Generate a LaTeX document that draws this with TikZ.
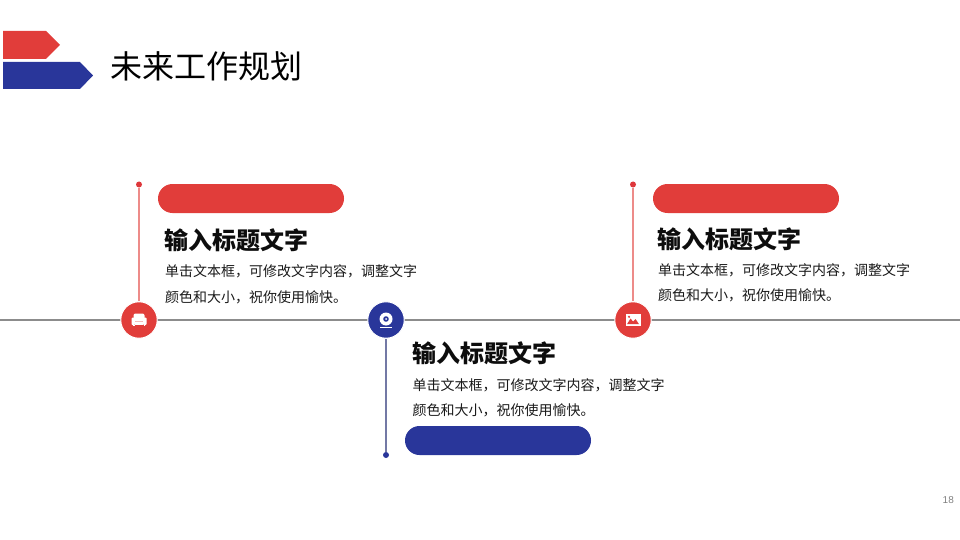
\documentclass[tikz,border=0pt]{standalone}
\usepackage{xcolor}
\usepackage{fontspec}
\setmainfont{Noto Sans CJK SC}
\newfontfamily\pagefont{Liberation Sans}
\usetikzlibrary{positioning}
\definecolor{planred}{HTML}{E13D3A}
\definecolor{planblue}{HTML}{29369A}
\begin{document}
\begin{tikzpicture}[
    x=1pt, y=-1pt,
    axis/.style={line width=1.2pt, draw=gray!90!white},
    stem/.style={line width=1.4pt},
    dot/.style={circle, inner sep=0pt, minimum size=6pt},
    badge/.style={circle, inner sep=0pt, minimum size=36.5pt, draw=white, line width=1pt},
    pill/.style={rounded corners=14.5pt, minimum width=186pt, minimum height=29pt, inner sep=0pt},
    heading/.style={anchor=west, inner sep=0pt, font=\fontsize{24}{28}\selectfont\bfseries, text=black!95},
    body/.style={anchor=west, inner sep=0pt, font=\fontsize{14}{18}\selectfont, text=black!90},
    icon/.style={fill=white, draw=none}
]
\useasboundingbox (0,0) rectangle (960,540);
% corner mark
\fill[planred] (3,31) -- (46,31) -- (60,45) -- (46,59) -- (3,59) -- cycle;
\fill[planblue] (3,62) -- (80,62) -- (93,75.5) -- (80,89) -- (3,89) -- cycle;
\node[anchor=west, inner sep=0pt, font=\fontsize{32}{36}\selectfont] (title) at (110,66) {未来工作规划};
% axis
\coordinate (left) at (0,320);
\coordinate (right) at (960,320);
\draw[axis] (left) -- (right);
\node[dot, fill=planred!90!purple] (d1) at (139,184.5) {};
\node[dot, fill=planblue] (d2) at (386,455) {};
\node[dot, fill=planred!90!purple] (d3) at (633,184.5) {};
\node[badge, fill=planred] (b1) at (139,320) {};
\node[badge, fill=planblue] (b2) at (386,320) {};
\node[badge, fill=planred] (b3) at (633,320) {};
\draw[stem, draw=planred!60!white] (d1) -- (b1);
\draw[stem, draw=planblue!55!gray!80!white] (d2) -- (b2);
\draw[stem, draw=planred!60!white] (d3) -- (b3);
\node[pill, fill=planred] (p1) at (251,198.5) {};
\node[pill, fill=planblue] (p2) at (498,440.5) {};
\node[pill, fill=planred] (p3) at (746,198.5) {};
% left block
\node[heading] (h1) at (164.5,240.5) {输入标题文字};
\node[body] (t1a) at (165,271.5) {单击文本框，可修改文字内容，调整文字};
\node[body] (t1b) at (165,297) {颜色和大小，祝你使用愉快。};
% middle block
\node[heading] (h2) at (412.5,353.5) {输入标题文字};
\node[body] (t2a) at (412.5,385) {单击文本框，可修改文字内容，调整文字};
\node[body] (t2b) at (412.5,410.5) {颜色和大小，祝你使用愉快。};
% right block
\node[heading] (h3) at (657.5,239) {输入标题文字};
\node[body] (t3a) at (658,270) {单击文本框，可修改文字内容，调整文字};
\node[body] (t3b) at (658,295.5) {颜色和大小，祝你使用愉快。};
% sofa
\fill[icon, rounded corners=2pt] (133.5,313.5) rectangle (144.5,321.5);
\fill[icon, rounded corners=1pt] (131.5,317.5) rectangle (135.2,325);
\fill[icon, rounded corners=1pt] (142.8,317.5) rectangle (146.5,325);
\fill[icon] (135.2,322) rectangle (142.8,325);
\fill[icon] (133,325) rectangle (134.5,326.2);
\fill[icon] (143.5,325) rectangle (145,326.2);
% webcam
\fill[icon] (386,319) circle (6.5);
\fill[planblue] (386,319) circle (2.8);
\fill[icon] (386,319) circle (1);
\fill[icon] (380,327) rectangle (392,328);
% picture
\fill[icon] (625.5,314) rectangle (640.5,326);
\fill[planred] (627,324.2) -- (630.5,318.5) -- (633,321.5) -- (635.5,319) -- (639,324.2) -- cycle;
\fill[planred] (629,316.8) circle (1.2);
\node[anchor=east, inner sep=0pt, font=\pagefont\fontsize{10}{12}\selectfont, text=gray] (page) at (954,500) {18};
\end{tikzpicture}
\end{document}
